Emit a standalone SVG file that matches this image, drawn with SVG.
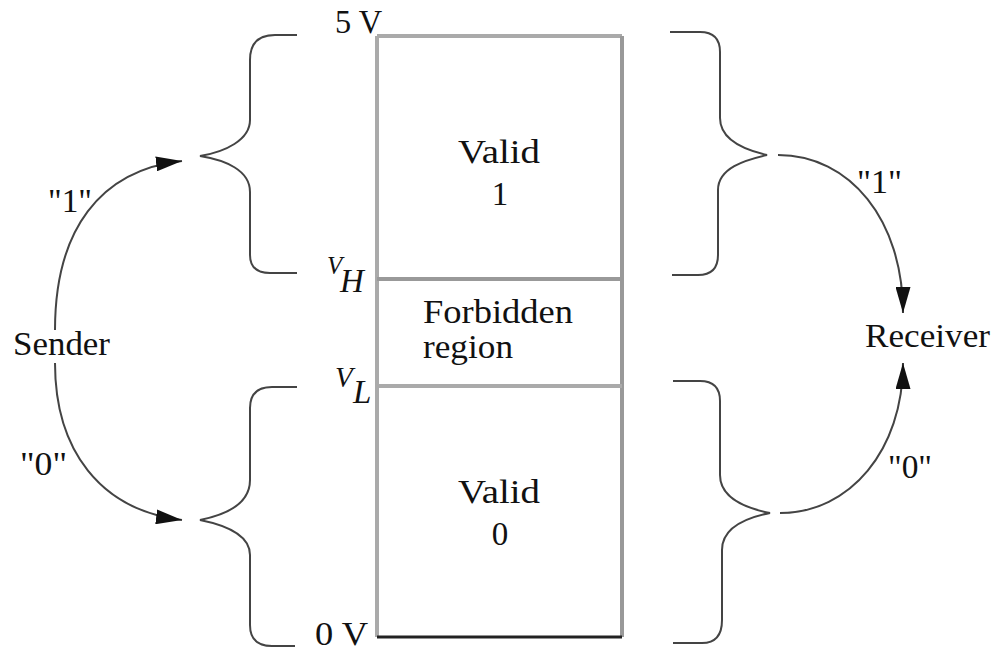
<svg xmlns="http://www.w3.org/2000/svg" width="997" height="651" viewBox="0 0 997 651">
<style>
.t{font-family:"Liberation Serif","DejaVu Serif",serif;font-size:33px;fill:#111}
.ti{font-family:"Liberation Serif","DejaVu Serif",serif;font-style:italic;fill:#111}
.box{stroke:#aaa;stroke-width:4;fill:none}
.br{stroke:#444;stroke-width:2;fill:none}
.ar{stroke:#444;stroke-width:2;fill:none;marker-end:url(#ah)}
</style>
<defs>
<marker id="ah" viewBox="0 0 10 10" refX="10" refY="5" markerUnits="userSpaceOnUse" markerWidth="26" markerHeight="15" orient="auto" preserveAspectRatio="none">
<path d="M0,0 L10,5 L0,10 z" fill="#111"/>
</marker>
</defs>
<rect width="997" height="651" fill="#fff"/>
<g id="scale">
<line class="box" x1="377" y1="36" x2="377" y2="637"/>
<line class="box" x1="377" y1="36" x2="622" y2="36"/>
<line class="box" x1="622" y1="36" x2="622" y2="637" style="stroke:#999"/>
<line class="box" x1="377" y1="279" x2="622" y2="279" style="stroke:#999"/>
<line class="box" x1="377" y1="386" x2="622" y2="386"/>
<line x1="377" y1="637" x2="622" y2="637" stroke="#222" stroke-width="3"/>
</g>
<g id="valid1"><text class="t" x="499" y="163" text-anchor="middle" textLength="82" lengthAdjust="spacingAndGlyphs">Valid</text><text class="t" x="500" y="205" text-anchor="middle">1</text></g>
<g id="forbidden"><text class="t" x="423" y="323" textLength="150" lengthAdjust="spacingAndGlyphs">Forbidden</text><text class="t" x="423" y="358" textLength="90" lengthAdjust="spacingAndGlyphs">region</text></g>
<g id="valid0"><text class="t" x="499" y="503" text-anchor="middle" textLength="82" lengthAdjust="spacingAndGlyphs">Valid</text><text class="t" x="500" y="545" text-anchor="middle">0</text></g>
<g id="levels">
<text class="t" x="335" y="33" textLength="47" lengthAdjust="spacingAndGlyphs">5 V</text>
<text class="ti" x="327" y="274" font-size="25">V</text><text class="ti" x="340" y="292" font-size="33">H</text>
<text class="ti" x="335" y="387" font-size="29">V</text><text class="ti" x="353" y="403" font-size="33">L</text>
<text class="t" x="315" y="645" font-size="31" textLength="53" lengthAdjust="spacingAndGlyphs">0 V</text>
</g>
<g id="sender"><text class="t" x="13" y="355" textLength="97" lengthAdjust="spacingAndGlyphs">Sender</text></g>
<g id="receiver"><text class="t" x="865" y="347" textLength="125" lengthAdjust="spacingAndGlyphs">Receiver</text></g>
<g id="braces">
<path class="br" d="M297 35 H275 Q250 35 250 60 V120 C250 140 225 152 200 156 C225 160 250 170 250 192 V255 Q250 273 270 273 H297"/>
<path class="br" d="M297 387 H272 Q250 387 250 408 V480 C250 505 225 515 200 520 C225 525 250 535 250 555 V625 Q250 646 272 646 H295"/>
<path class="br" d="M670 32 H700 Q720 32 720 52 V118 C720 140 745 150 767 155 C745 160 718 168 718 190 V255 Q718 275 698 275 H672"/>
<path class="br" d="M673 381 H700 Q720 381 720 401 V475 C720 498 745 508 770 513 C745 518 722 528 722 550 V620 Q722 643 702 643 H673"/>
</g>
<g id="connectors">
<path class="ar" d="M55 330 C55 230 100 170 182 161"/>
<path class="ar" d="M55 363 C55 450 100 510 182 520"/>
<path class="ar" d="M778 155 C850 155 903 220 903 313"/>
<path class="ar" d="M780 513 C850 513 903 450 903 363"/>
</g>
<g id="labels">
<text class="t" x="48" y="212" textLength="44" lengthAdjust="spacingAndGlyphs">"1"</text>
<text class="t" x="20" y="475" textLength="47" lengthAdjust="spacingAndGlyphs">"0"</text>
<text class="t" x="857" y="193" textLength="45" lengthAdjust="spacingAndGlyphs">"1"</text>
<text class="t" x="888" y="478" textLength="44" lengthAdjust="spacingAndGlyphs">"0"</text>
</g>
</svg>
